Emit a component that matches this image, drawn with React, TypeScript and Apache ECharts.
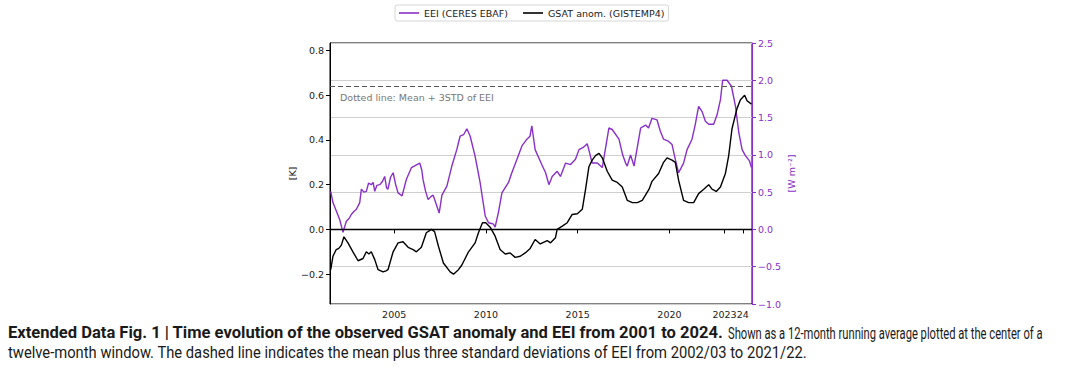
import React, { useEffect, useRef } from "react";
import * as echarts from "echarts";

// ---- Data ----
const eeiYears = [
  2001.54, 2001.66, 2001.84, 2002.03, 2002.21, 2002.39, 2002.55, 2002.66, 2002.8, 2002.94,
  2003.12, 2003.21, 2003.35, 2003.48, 2003.6, 2003.75, 2003.85, 2003.94, 2004.05, 2004.21,
  2004.35, 2004.48, 2004.58, 2004.66, 2004.8, 2004.94, 2005.08, 2005.21, 2005.43, 2005.66,
  2005.94, 2006.16, 2006.39, 2006.5, 2006.57, 2006.7, 2006.85, 2007.0, 2007.12, 2007.3,
  2007.45, 2007.6, 2007.87, 2008.14, 2008.41, 2008.59, 2008.78, 2008.96, 2009.14, 2009.41,
  2009.68, 2009.96, 2010.14, 2010.3, 2010.41, 2010.5, 2010.68, 2010.87, 2011.05, 2011.23,
  2011.41, 2011.69, 2011.96, 2012.23, 2012.4, 2012.5, 2012.68, 2013.04, 2013.25, 2013.43,
  2013.61, 2013.88, 2014.06, 2014.34, 2014.61, 2014.88, 2015.07, 2015.3, 2015.52, 2015.79,
  2016.07, 2016.34, 2016.7, 2016.88, 2017.25, 2017.45, 2017.61, 2017.7, 2017.88, 2018.07,
  2018.43, 2018.7, 2018.86, 2019.05, 2019.32, 2019.5, 2019.68, 2019.96, 2020.14, 2020.32,
  2020.5, 2020.77, 2020.96, 2021.23, 2021.41, 2021.59, 2021.78, 2021.96, 2022.14, 2022.41,
  2022.6, 2022.78, 2022.9, 2023.14, 2023.38, 2023.6, 2023.78, 2023.96, 2024.14, 2024.36,
  2024.47,
];
const eeiValues = [
  0.51, 0.36, 0.25, 0.13, -0.04, 0.11, 0.15, 0.2, 0.24, 0.27,
  0.36, 0.54, 0.5, 0.51, 0.62, 0.6, 0.63, 0.51, 0.59, 0.6,
  0.64, 0.71, 0.56, 0.54, 0.7, 0.76, 0.6, 0.49, 0.45, 0.67,
  0.83, 0.86, 0.89, 0.8, 0.67, 0.52, 0.4, 0.44, 0.46, 0.33,
  0.22, 0.46, 0.58, 0.85, 1.07, 1.25, 1.27, 1.35, 1.25, 0.98,
  0.63, 0.18, 0.09, 0.08, 0.07, 0.03, 0.23, 0.49, 0.56, 0.63,
  0.76, 0.94, 1.12, 1.21, 1.25, 1.39, 1.07, 0.87, 0.76, 0.6,
  0.71, 0.78, 0.71, 0.89, 0.87, 0.94, 1.07, 1.1, 1.15, 0.89,
  0.89, 0.83, 1.36, 1.34, 1.21, 1.0, 0.89, 0.85, 1.0, 0.85,
  1.36, 1.4, 1.36, 1.49, 1.47, 1.32, 1.21, 1.18, 1.14, 0.94,
  0.76, 0.89, 1.07, 1.21, 1.41, 1.65, 1.58, 1.45, 1.41, 1.41,
  1.54, 1.74, 2.0, 2.0, 1.92, 1.65, 1.3, 1.07, 0.99, 0.92,
  0.83,
];

const gsatYears = [
  2001.54, 2001.66, 2001.84, 2001.98, 2002.12, 2002.26, 2002.48, 2002.75, 2003.03, 2003.3,
  2003.48, 2003.62, 2003.75, 2003.94, 2004.12, 2004.39, 2004.55, 2004.66, 2004.94, 2005.21,
  2005.48, 2005.76, 2006.03, 2006.21, 2006.48, 2006.75, 2007.03, 2007.2, 2007.41, 2007.68,
  2008.05, 2008.23, 2008.5, 2008.68, 2009.05, 2009.41, 2009.59, 2009.81, 2009.99, 2010.23,
  2010.5, 2010.77, 2011.05, 2011.32, 2011.59, 2011.87, 2012.14, 2012.41, 2012.68, 2012.96,
  2013.34, 2013.52, 2013.79, 2013.88, 2014.16, 2014.43, 2014.7, 2014.98, 2015.25, 2015.43,
  2015.61, 2015.79, 2015.97, 2016.16, 2016.34, 2016.61, 2016.88, 2017.16, 2017.43, 2017.7,
  2017.98, 2018.25, 2018.52, 2018.89, 2019.05, 2019.41, 2019.68, 2019.87, 2020.14, 2020.32,
  2020.5, 2020.77, 2021.05, 2021.32, 2021.59, 2021.87, 2022.14, 2022.32, 2022.55, 2022.78,
  2023.05, 2023.23, 2023.41, 2023.68, 2023.87, 2024.1, 2024.23, 2024.47,
];
const gsatValues = [
  -0.18, -0.12, -0.09, -0.085, -0.07, -0.033, -0.06, -0.1, -0.14, -0.13,
  -0.1, -0.11, -0.1, -0.135, -0.18, -0.19, -0.185, -0.18, -0.1, -0.06,
  -0.055, -0.08, -0.09, -0.1, -0.08, -0.015, 0.0, -0.01, -0.075, -0.15,
  -0.19, -0.2, -0.18, -0.16, -0.1, -0.06, -0.015, 0.03, 0.03, 0.01,
  -0.03, -0.09, -0.11, -0.105, -0.125, -0.12, -0.105, -0.085, -0.045, -0.065,
  -0.05, -0.06, -0.037, 0.0, 0.015, 0.03, 0.067, 0.07, 0.09, 0.18,
  0.28, 0.31, 0.33, 0.34, 0.32, 0.26, 0.22, 0.21, 0.19, 0.13,
  0.12, 0.12, 0.13, 0.18, 0.215, 0.25, 0.3, 0.32, 0.31, 0.3,
  0.22, 0.13, 0.12, 0.12, 0.16, 0.18, 0.2, 0.18, 0.17, 0.19,
  0.25, 0.33, 0.45, 0.54, 0.58, 0.6, 0.575, 0.56,
];

const xTicks = [2005, 2010, 2015, 2020, 2023, 2024];
const xTickLabels = ["2005", "2010", "2015", "2020", "2023", "24"];
const leftTicks = [-0.2, 0, 0.2, 0.4, 0.6, 0.8];
const zeroLevel = 0;
const eeiThreshold = 1.92;
const seriesNames = ["EEI (CERES EBAF)", "GSAT anom. (GISTEMP4)"];
const thresholdNote = "Dotted line: Mean + 3STD of EEI";
const captionBold =
  "Extended Data Fig. 1 | Time evolution of the observed GSAT anomaly and EEI from 2001 to 2024.";
const captionRest = "Shown as a 12-month running average plotted at the center of a";
const captionLine2 =
  "twelve-month window. The dashed line indicates the mean plus three standard deviations of EEI from 2002/03 to 2021/22.";

const PURPLE = "#8a2fc8";
const FONT = "DejaVu Sans";
const FS = 9.5;

function measure(text: string, font: string): number {
  const ctx = document.createElement("canvas").getContext("2d");
  if (!ctx) return text.length * 7;
  ctx.font = font;
  return ctx.measureText(text).width;
}

const fmt = (v: number) => {
  const s = v.toFixed(1);
  return s.replace("-", "\u2212");
};

export default function App() {
  const ref = useRef<HTMLDivElement>(null);

  useEffect(() => {
    if (!ref.current) return;
    const chart = echarts.init(ref.current, undefined, { renderer: "svg" });

    const capBoldFont = "bold 16.5px Roboto";
    const capFont = "16.5px Roboto";
    const sBold = (724 - 8) / measure(captionBold, capBoldFont);
    const sRest = (1043 - 728) / measure(captionRest, capFont);
    const sLine2 = (808 - 8) / measure(captionLine2, capFont);

    const eeiData = eeiYears.map((y, i) => [y, eeiValues[i]]);
    const gsatData = gsatYears.map((y, i) => [y, gsatValues[i]]);

    chart.setOption({
      animation: false,
      backgroundColor: "#ffffff",
      legend: {
        left: 395,
        top: 5,
        padding: [3, 4],
        itemGap: 15,
        itemWidth: 20,
        itemHeight: 1.6,
        icon: "rect",
        borderColor: "#cccccc",
        borderWidth: 0.8,
        borderRadius: 2,
        textStyle: { fontFamily: FONT, fontSize: FS, color: "#222" },
        data: [
          { name: seriesNames[0], itemStyle: { color: PURPLE } },
          { name: seriesNames[1], itemStyle: { color: "#000" } },
        ],
      },
      grid: {
        left: 330,
        right: 322,
        top: 43,
        bottom: 74,
        show: true,
        borderColor: "#000",
        borderWidth: 1,
      },
      xAxis: {
        type: "value",
        min: 2001.5,
        max: 2024.5,
        axisLine: { show: true, lineStyle: { color: "#000", width: 1 } },
        axisTick: { show: true, length: 4, customValues: xTicks, lineStyle: { color: "#000" } },
        axisLabel: {
          customValues: xTicks,
          margin: 5,
          fontFamily: FONT,
          fontSize: FS,
          color: "#222",
          formatter: (v: number) => {
            const i = xTicks.indexOf(Math.round(v));
            return i >= 0 ? xTickLabels[i] : "";
          },
        },
        splitLine: { show: false },
      },
      yAxis: [
        {
          type: "value",
          min: -1 / 3,
          max: 2.5 / 3,
          position: "left",
          name: "[K]",
          nameLocation: "middle",
          nameGap: 32,
          nameRotate: 90,
          nameTextStyle: { fontFamily: FONT, fontSize: FS, color: "#222" },
          axisLine: { show: true, lineStyle: { color: "#000", width: 1 } },
          axisTick: { show: true, length: 4, customValues: leftTicks, lineStyle: { color: "#000" } },
          axisLabel: {
            customValues: leftTicks,
            margin: 6,
            fontFamily: FONT,
            fontSize: FS,
            color: "#222",
            formatter: fmt,
          },
          splitLine: { show: false },
        },
        {
          type: "value",
          min: -1,
          max: 2.5,
          interval: 0.5,
          position: "right",
          name: "[W m\u207B\u00B2]",
          nameLocation: "middle",
          nameGap: 34,
          nameRotate: 90,
          nameTextStyle: { fontFamily: FONT, fontSize: FS, color: PURPLE },
          axisLine: { show: true, lineStyle: { color: PURPLE, width: 1 } },
          axisTick: { show: true, length: 4, lineStyle: { color: PURPLE } },
          axisLabel: {
            margin: 6,
            fontFamily: FONT,
            fontSize: FS,
            color: PURPLE,
            formatter: fmt,
          },
          splitLine: { show: true, lineStyle: { color: "#cfcfcf", width: 1 } },
        },
      ],
      series: [
        {
          name: seriesNames[0],
          type: "line",
          yAxisIndex: 1,
          data: eeiData,
          symbol: "none",
          showSymbol: false,
          lineStyle: { color: PURPLE, width: 1.4 },
          itemStyle: { color: PURPLE },
          z: 3,
          markLine: {
            silent: true,
            symbol: "none",
            label: { show: false },
            lineStyle: { color: "#555", type: [5, 3], width: 1.1 },
            data: [{ yAxis: eeiThreshold }],
          },
        },
        {
          name: seriesNames[1],
          type: "line",
          yAxisIndex: 0,
          data: gsatData,
          symbol: "none",
          showSymbol: false,
          lineStyle: { color: "#000", width: 1.4 },
          itemStyle: { color: "#000" },
          z: 4,
          markLine: {
            silent: true,
            symbol: "none",
            label: { show: false },
            lineStyle: { color: "#000", type: "solid", width: 1.3 },
            data: [{ yAxis: zeroLevel }],
          },
        },
      ],
      graphic: [
        {
          type: "text",
          x: 340,
          y: 97,
          style: {
            text: thresholdNote,
            font: `${FS}px ${FONT}`,
            fill: "#777",
            align: "left",
            verticalAlign: "middle",
          },
        },
        {
          type: "text",
          x: 8,
          y: 333,
          scaleX: sBold,
          style: {
            text: captionBold,
            font: capBoldFont,
            fill: "#1a1a1a",
            align: "left",
            verticalAlign: "middle",
          },
        },
        {
          type: "text",
          x: 728,
          y: 333,
          scaleX: sRest,
          style: {
            text: captionRest,
            font: capFont,
            fill: "#1a1a1a",
            align: "left",
            verticalAlign: "middle",
          },
        },
        {
          type: "text",
          x: 8,
          y: 352,
          scaleX: sLine2,
          style: {
            text: captionLine2,
            font: capFont,
            fill: "#1a1a1a",
            align: "left",
            verticalAlign: "middle",
          },
        },
      ],
    });

    return () => chart.dispose();
  }, []);

  return (
    <div
      ref={ref}
      style={{ position: "fixed", left: 0, top: 0, width: 1074, height: 378, background: "#fff" }}
    />
  );
}
